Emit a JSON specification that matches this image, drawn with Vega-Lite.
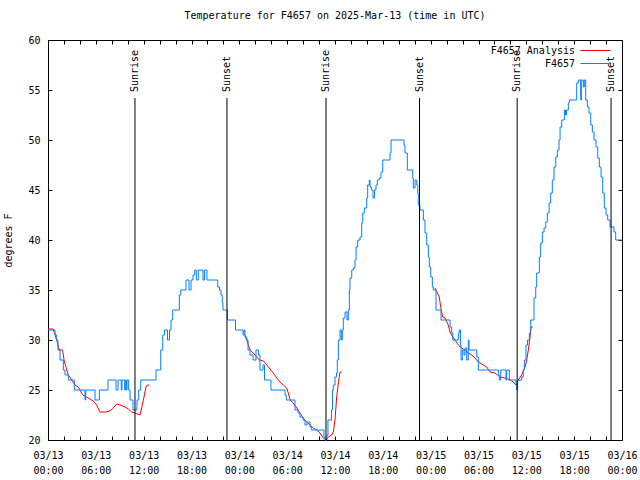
{
  "$schema": "https://vega.github.io/schema/vega-lite/v6.json",
  "width": 574,
  "height": 400,
  "autosize": {"type": "none"},
  "padding": {"left": 48, "top": 40, "right": 18, "bottom": 40},
  "background": "white",
  "title": {"text": "Temperature for F4657 on 2025-Mar-13 (time in UTC)", "font": "DejaVu Sans Mono", "fontSize": 10, "fontWeight": "normal", "color": "black", "offset": 14},
  "config": {
    "view": {"stroke": "black", "strokeWidth": 1},
    "font": "DejaVu Sans Mono",
    "axis": {"labelFont": "DejaVu Sans Mono", "labelFontSize": 10, "labelColor": "black", "titleFont": "DejaVu Sans Mono", "titleFontSize": 10, "titleFontWeight": "normal", "titleColor": "black", "domain": false, "grid": false, "tickColor": "black", "tickWidth": 1, "labelFlush": false},
    "legend": {"orient": "none", "legendX": 542, "legendY": 5, "title": null, "symbolType": "M-3,0H3", "symbolSize": 100, "symbolStrokeWidth": 1, "labelAlign": "right", "labelOffset": -26, "labelFont": "DejaVu Sans Mono", "labelFontSize": 10, "labelColor": "black", "padding": 0, "rowPadding": 2}
  },
  "datasets": {
    "obs": [
      {"hour": 0, "temp": 31}, {"hour": 0.88, "temp": 30.5}, {"hour": 1.09, "temp": 30}, {"hour": 1.25, "temp": 29}, {"hour": 1.51, "temp": 28},
      {"hour": 1.92, "temp": 27}, {"hour": 2.13, "temp": 26.5}, {"hour": 2.55, "temp": 26}, {"hour": 3.3, "temp": 25}, {"hour": 4.64, "temp": 24},
      {"hour": 4.73, "temp": 25}, {"hour": 5.9, "temp": 24}, {"hour": 6.44, "temp": 25}, {"hour": 7.53, "temp": 26}, {"hour": 8.53, "temp": 25},
      {"hour": 8.78, "temp": 26}, {"hour": 9.03, "temp": 26}, {"hour": 9.19, "temp": 25}, {"hour": 9.28, "temp": 26}, {"hour": 9.62, "temp": 25},
      {"hour": 9.7, "temp": 26}, {"hour": 9.82, "temp": 25}, {"hour": 9.91, "temp": 26}, {"hour": 10.12, "temp": 25}, {"hour": 10.29, "temp": 24},
      {"hour": 10.66, "temp": 23}, {"hour": 11.16, "temp": 24}, {"hour": 11.38, "temp": 25}, {"hour": 11.63, "temp": 26}, {"hour": 13.55, "temp": 27},
      {"hour": 14.14, "temp": 29}, {"hour": 14.39, "temp": 30.5}, {"hour": 14.61, "temp": 31}, {"hour": 14.99, "temp": 30}, {"hour": 15.24, "temp": 31},
      {"hour": 15.43, "temp": 32}, {"hour": 15.64, "temp": 33}, {"hour": 16.47, "temp": 34.5}, {"hour": 16.65, "temp": 35}, {"hour": 17.31, "temp": 36},
      {"hour": 17.69, "temp": 35}, {"hour": 17.94, "temp": 36}, {"hour": 18.19, "temp": 36.5}, {"hour": 18.4, "temp": 37}, {"hour": 18.6, "temp": 36},
      {"hour": 18.85, "temp": 37}, {"hour": 19.44, "temp": 36}, {"hour": 19.63, "temp": 37}, {"hour": 19.94, "temp": 36}, {"hour": 21.29, "temp": 35.3},
      {"hour": 21.51, "temp": 35}, {"hour": 21.7, "temp": 34.5}, {"hour": 21.86, "temp": 33.7}, {"hour": 21.95, "temp": 33}, {"hour": 22.52, "temp": 32},
      {"hour": 23.52, "temp": 31}, {"hour": 24.46, "temp": 30.5}, {"hour": 24.59, "temp": 31}, {"hour": 24.71, "temp": 30.3}, {"hour": 24.93, "temp": 30},
      {"hour": 25.09, "temp": 29}, {"hour": 25.34, "temp": 28.5}, {"hour": 25.72, "temp": 28}, {"hour": 26.09, "temp": 29}, {"hour": 26.41, "temp": 28.5},
      {"hour": 26.59, "temp": 27}, {"hour": 26.97, "temp": 27.5}, {"hour": 27.16, "temp": 26}, {"hour": 27.97, "temp": 25}, {"hour": 29.73, "temp": 24.5},
      {"hour": 29.89, "temp": 24}, {"hour": 30.98, "temp": 23}, {"hour": 31.36, "temp": 22.7}, {"hour": 31.61, "temp": 22.3}, {"hour": 31.99, "temp": 22},
      {"hour": 32.24, "temp": 21.5}, {"hour": 32.49, "temp": 21.8}, {"hour": 32.87, "temp": 21.3}, {"hour": 33.08, "temp": 21}, {"hour": 34.62, "temp": 20.3},
      {"hour": 34.75, "temp": 20}, {"hour": 35.0, "temp": 20.5}, {"hour": 35.12, "temp": 22}, {"hour": 35.56, "temp": 23}, {"hour": 35.69, "temp": 25},
      {"hour": 35.79, "temp": 25.5}, {"hour": 36.0, "temp": 26.3}, {"hour": 36.19, "temp": 26.7}, {"hour": 36.29, "temp": 28}, {"hour": 36.42, "temp": 30},
      {"hour": 36.63, "temp": 31}, {"hour": 36.79, "temp": 30}, {"hour": 36.92, "temp": 31}, {"hour": 37.04, "temp": 32.2}, {"hour": 37.26, "temp": 32.8},
      {"hour": 37.51, "temp": 32}, {"hour": 37.67, "temp": 33}, {"hour": 37.8, "temp": 35}, {"hour": 37.88, "temp": 36.2}, {"hour": 38.1, "temp": 37},
      {"hour": 38.3, "temp": 37.2}, {"hour": 38.51, "temp": 38}, {"hour": 38.64, "temp": 39.3}, {"hour": 38.85, "temp": 40}, {"hour": 39.14, "temp": 40.3},
      {"hour": 39.35, "temp": 41.7}, {"hour": 39.48, "temp": 42.7}, {"hour": 39.68, "temp": 43.2}, {"hour": 39.98, "temp": 44.2}, {"hour": 40.1, "temp": 45.5},
      {"hour": 40.3, "temp": 46}, {"hour": 40.39, "temp": 45.3}, {"hour": 40.58, "temp": 45}, {"hour": 40.77, "temp": 44.2}, {"hour": 40.96, "temp": 45},
      {"hour": 41.14, "temp": 45.5}, {"hour": 41.31, "temp": 46}, {"hour": 41.56, "temp": 46.2}, {"hour": 41.77, "temp": 46.8}, {"hour": 41.99, "temp": 48},
      {"hour": 42.9, "temp": 48.7}, {"hour": 43.03, "temp": 50}, {"hour": 44.66, "temp": 49.5}, {"hour": 44.78, "temp": 48.7}, {"hour": 45.07, "temp": 47},
      {"hour": 45.75, "temp": 46.2}, {"hour": 45.82, "temp": 45.2}, {"hour": 46.04, "temp": 46}, {"hour": 46.25, "temp": 45.5}, {"hour": 46.38, "temp": 44.7},
      {"hour": 46.45, "temp": 43.5}, {"hour": 46.66, "temp": 43}, {"hour": 47.08, "temp": 42}, {"hour": 47.29, "temp": 40.7}, {"hour": 47.5, "temp": 39.5},
      {"hour": 47.71, "temp": 38.3}, {"hour": 47.83, "temp": 37.3}, {"hour": 48.01, "temp": 36.3}, {"hour": 48.21, "temp": 35.3}, {"hour": 48.33, "temp": 35},
      {"hour": 48.67, "temp": 33}, {"hour": 49.3, "temp": 32}, {"hour": 50.43, "temp": 31.3}, {"hour": 50.64, "temp": 30.7}, {"hour": 50.77, "temp": 30},
      {"hour": 51.47, "temp": 30.7}, {"hour": 51.59, "temp": 31}, {"hour": 51.74, "temp": 29.5}, {"hour": 51.81, "temp": 28}, {"hour": 51.97, "temp": 29},
      {"hour": 52.18, "temp": 28.5}, {"hour": 52.31, "temp": 29.2}, {"hour": 52.52, "temp": 28}, {"hour": 52.72, "temp": 30}, {"hour": 52.81, "temp": 29},
      {"hour": 53.78, "temp": 28.3}, {"hour": 53.98, "temp": 27}, {"hour": 56.49, "temp": 26.5}, {"hour": 56.61, "temp": 26}, {"hour": 56.79, "temp": 27},
      {"hour": 57.45, "temp": 26}, {"hour": 57.54, "temp": 27}, {"hour": 57.87, "temp": 26}, {"hour": 58.71, "temp": 25.7}, {"hour": 58.79, "temp": 25},
      {"hour": 58.89, "temp": 26}, {"hour": 59.42, "temp": 26.3}, {"hour": 59.62, "temp": 27}, {"hour": 59.75, "temp": 28}, {"hour": 59.96, "temp": 29.5},
      {"hour": 60.15, "temp": 30}, {"hour": 60.38, "temp": 30.7}, {"hour": 60.55, "temp": 32}, {"hour": 60.96, "temp": 34.2}, {"hour": 61.18, "temp": 35.3},
      {"hour": 61.3, "temp": 36.7}, {"hour": 61.63, "temp": 38.3}, {"hour": 61.8, "temp": 39.7}, {"hour": 62.01, "temp": 40.8}, {"hour": 62.22, "temp": 41.2},
      {"hour": 62.43, "temp": 41.8}, {"hour": 62.63, "temp": 42.7}, {"hour": 62.85, "temp": 43.7}, {"hour": 63.06, "temp": 44.7}, {"hour": 63.26, "temp": 46},
      {"hour": 63.47, "temp": 47.3}, {"hour": 63.69, "temp": 48.3}, {"hour": 63.89, "temp": 49}, {"hour": 64.1, "temp": 50}, {"hour": 64.23, "temp": 51.3},
      {"hour": 64.44, "temp": 52}, {"hour": 64.77, "temp": 53}, {"hour": 64.92, "temp": 52.5}, {"hour": 65.04, "temp": 53}, {"hour": 65.27, "temp": 53.7},
      {"hour": 65.39, "temp": 54}, {"hour": 66.32, "temp": 55.7}, {"hour": 66.52, "temp": 56}, {"hour": 66.82, "temp": 54}, {"hour": 66.9, "temp": 56},
      {"hour": 67.15, "temp": 55.3}, {"hour": 67.27, "temp": 56}, {"hour": 67.45, "temp": 54}, {"hour": 67.65, "temp": 53.3}, {"hour": 67.86, "temp": 52.7},
      {"hour": 68.08, "temp": 51.5}, {"hour": 68.28, "temp": 50.8}, {"hour": 68.49, "temp": 50}, {"hour": 68.74, "temp": 49.3}, {"hour": 68.96, "temp": 48.2},
      {"hour": 69.16, "temp": 47.3}, {"hour": 69.37, "temp": 46.3}, {"hour": 69.58, "temp": 44.7}, {"hour": 69.78, "temp": 43.2}, {"hour": 70.0, "temp": 42.5},
      {"hour": 70.21, "temp": 42}, {"hour": 70.5, "temp": 41.3}, {"hour": 71.0, "temp": 40.8}, {"hour": 71.21, "temp": 40}, {"hour": 72.0, "temp": 40}
    ],
    "analysis": [
      {"hour": 0, "temp": 31.1, "seg": 1}, {"hour": 0.66, "temp": 31.1, "seg": 1}, {"hour": 0.88, "temp": 30.5, "seg": 1}, {"hour": 1.09, "temp": 30, "seg": 1},
      {"hour": 1.42, "temp": 29, "seg": 1}, {"hour": 1.84, "temp": 29, "seg": 1}, {"hour": 2.01, "temp": 28, "seg": 1}, {"hour": 2.35, "temp": 27, "seg": 1},
      {"hour": 2.55, "temp": 26.5, "seg": 1}, {"hour": 2.97, "temp": 26, "seg": 1}, {"hour": 3.39, "temp": 25.5, "seg": 1}, {"hour": 3.8, "temp": 25.3, "seg": 1},
      {"hour": 4.01, "temp": 25, "seg": 1}, {"hour": 4.35, "temp": 24.5, "seg": 1}, {"hour": 4.85, "temp": 24.3, "seg": 1}, {"hour": 5.27, "temp": 24.1, "seg": 1},
      {"hour": 5.68, "temp": 23.9, "seg": 1}, {"hour": 6.11, "temp": 23.5, "seg": 1}, {"hour": 6.52, "temp": 22.8, "seg": 1}, {"hour": 7.15, "temp": 22.8, "seg": 1},
      {"hour": 7.78, "temp": 22.9, "seg": 1}, {"hour": 8.19, "temp": 23.2, "seg": 1}, {"hour": 8.62, "temp": 23.6, "seg": 1}, {"hour": 9.03, "temp": 23.5, "seg": 1},
      {"hour": 9.66, "temp": 23.3, "seg": 1}, {"hour": 10.07, "temp": 23.1, "seg": 1}, {"hour": 10.5, "temp": 22.8, "seg": 1}, {"hour": 10.91, "temp": 22.7, "seg": 1},
      {"hour": 11.54, "temp": 22.5, "seg": 1}, {"hour": 11.75, "temp": 23.2, "seg": 1}, {"hour": 12.04, "temp": 24.3, "seg": 1}, {"hour": 12.29, "temp": 25.3, "seg": 1},
      {"hour": 12.46, "temp": 25.5, "seg": 1}, {"hour": 12.71, "temp": 25.5, "seg": 1},
      {"hour": 24.71, "temp": 30.5, "seg": 2}, {"hour": 24.93, "temp": 30, "seg": 2}, {"hour": 25.34, "temp": 29, "seg": 2}, {"hour": 25.75, "temp": 28.7, "seg": 2},
      {"hour": 26.18, "temp": 28.3, "seg": 2}, {"hour": 26.51, "temp": 28, "seg": 2}, {"hour": 27.01, "temp": 27.9, "seg": 2}, {"hour": 27.44, "temp": 27.5, "seg": 2},
      {"hour": 27.85, "temp": 27.1, "seg": 2}, {"hour": 28.26, "temp": 26.7, "seg": 2}, {"hour": 28.69, "temp": 26.2, "seg": 2}, {"hour": 29.1, "temp": 25.8, "seg": 2},
      {"hour": 29.52, "temp": 25.5, "seg": 2}, {"hour": 29.94, "temp": 25.2, "seg": 2}, {"hour": 30.14, "temp": 24.7, "seg": 2}, {"hour": 30.36, "temp": 24, "seg": 2},
      {"hour": 30.77, "temp": 23.7, "seg": 2}, {"hour": 31.2, "temp": 23.2, "seg": 2}, {"hour": 31.61, "temp": 22.7, "seg": 2}, {"hour": 32.03, "temp": 22.2, "seg": 2},
      {"hour": 32.45, "temp": 21.8, "seg": 2}, {"hour": 32.87, "temp": 21.5, "seg": 2}, {"hour": 33.28, "temp": 21.2, "seg": 2}, {"hour": 33.71, "temp": 21, "seg": 2},
      {"hour": 34.12, "temp": 20.7, "seg": 2}, {"hour": 34.53, "temp": 20.2, "seg": 2}, {"hour": 34.87, "temp": 20, "seg": 2}, {"hour": 35.16, "temp": 20.3, "seg": 2},
      {"hour": 35.59, "temp": 20.5, "seg": 2}, {"hour": 35.79, "temp": 20.8, "seg": 2}, {"hour": 36.0, "temp": 22, "seg": 2}, {"hour": 36.21, "temp": 24.3, "seg": 2},
      {"hour": 36.42, "temp": 25.7, "seg": 2}, {"hour": 36.63, "temp": 26.8, "seg": 2}, {"hour": 36.84, "temp": 26.8, "seg": 2},
      {"hour": 48.55, "temp": 35.2, "seg": 3}, {"hour": 49.08, "temp": 34.3, "seg": 3}, {"hour": 49.26, "temp": 33.3, "seg": 3}, {"hour": 49.51, "temp": 32.3, "seg": 3},
      {"hour": 49.8, "temp": 32.2, "seg": 3}, {"hour": 50.21, "temp": 31.5, "seg": 3}, {"hour": 50.43, "temp": 30.8, "seg": 3}, {"hour": 50.64, "temp": 30.5, "seg": 3},
      {"hour": 51.05, "temp": 30, "seg": 3}, {"hour": 51.47, "temp": 29.5, "seg": 3}, {"hour": 51.89, "temp": 29.2, "seg": 3}, {"hour": 52.31, "temp": 29, "seg": 3},
      {"hour": 52.72, "temp": 28.7, "seg": 3}, {"hour": 53.15, "temp": 28.5, "seg": 3}, {"hour": 53.56, "temp": 28.2, "seg": 3}, {"hour": 53.98, "temp": 27.8, "seg": 3},
      {"hour": 54.61, "temp": 27.5, "seg": 3}, {"hour": 55.03, "temp": 27.3, "seg": 3}, {"hour": 55.45, "temp": 26.8, "seg": 3}, {"hour": 56.07, "temp": 26.7, "seg": 3},
      {"hour": 56.7, "temp": 26.3, "seg": 3}, {"hour": 57.33, "temp": 26.2, "seg": 3}, {"hour": 57.96, "temp": 26, "seg": 3}, {"hour": 58.37, "temp": 25.8, "seg": 3},
      {"hour": 58.71, "temp": 25.5, "seg": 3}, {"hour": 58.99, "temp": 26, "seg": 3}, {"hour": 59.42, "temp": 26.5, "seg": 3}, {"hour": 59.84, "temp": 27.3, "seg": 3},
      {"hour": 60.05, "temp": 28, "seg": 3}, {"hour": 60.25, "temp": 29, "seg": 3}, {"hour": 60.46, "temp": 30.3, "seg": 3}, {"hour": 60.59, "temp": 31.3, "seg": 3},
      {"hour": 60.8, "temp": 31.3, "seg": 3}
    ],
    "sun": [
      {"hour": 10.91, "event": "Sunrise"}, {"hour": 22.45, "event": "Sunset"}, {"hour": 34.87, "event": "Sunrise"},
      {"hour": 46.6, "event": "Sunset"}, {"hour": 58.85, "event": "Sunrise"}, {"hour": 70.63, "event": "Sunset"}
    ]
  },
  "layer": [
    {
      "data": {"name": "analysis"},
      "mark": {"type": "line", "strokeWidth": 1, "interpolate": "linear"},
      "encoding": {
        "x": {"field": "hour", "type": "quantitative", "scale": {"domain": [0, 72], "nice": false, "zero": false},
          "axis": {"orient": "bottom", "values": [0,2,4,6,8,10,12,14,16,18,20,22,24,26,28,30,32,34,36,38,40,42,44,46,48,50,52,54,56,58,60,62,64,66,68,70,72], "tickSize": -4, "labelPadding": 14, "labelOverlap": false, "labelLineHeight": 15, "labelBaseline": "top", "labelFlush": false,
            "labelExpr": "datum.value % 6 == 0 ? ['03/' + (13 + floor(datum.value / 24)), format(datum.value % 24, '02d') + ':00'] : ''", "title": null}},
        "y": {"field": "temp", "type": "quantitative", "scale": {"domain": [20, 60], "nice": false, "zero": false},
          "axis": {"orient": "left", "values": [20,25,30,35,40,45,50,55,60], "tickSize": -4, "labelPadding": 12, "labelFlush": false, "title": "degrees F", "titlePadding": 14}},
        "color": {"datum": "F4657 Analysis", "type": "nominal", "scale": {"domain": ["F4657 Analysis", "F4657"], "range": ["#ff0000", "#0080ff"]}},
        "detail": {"field": "seg", "type": "nominal"}
      }
    },
    {
      "data": {"name": "obs"},
      "mark": {"type": "line", "strokeWidth": 1, "interpolate": "step-after"},
      "encoding": {
        "x": {"field": "hour", "type": "quantitative",
          "axis": {"orient": "top", "values": [0,2,4,6,8,10,12,14,16,18,20,22,24,26,28,30,32,34,36,38,40,42,44,46,48,50,52,54,56,58,60,62,64,66,68,70,72], "tickSize": -4, "labels": false, "title": null}},
        "y": {"field": "temp", "type": "quantitative",
          "axis": {"orient": "right", "values": [20,25,30,35,40,45,50,55,60], "tickSize": -4, "labels": false, "title": null}},
        "color": {"datum": "F4657", "type": "nominal"}
      }
    },
    {
      "data": {"name": "sun"},
      "mark": {"type": "rule", "color": "black", "strokeWidth": 1},
      "encoding": {
        "x": {"field": "hour", "type": "quantitative", "axis": null},
        "y": {"datum": 54.2, "axis": null},
        "y2": {"datum": 20}
      }
    },
    {
      "data": {"name": "sun"},
      "mark": {"type": "text", "angle": 270, "align": "left", "baseline": "middle", "font": "DejaVu Sans Mono", "fontSize": 10, "color": "black"},
      "encoding": {
        "x": {"field": "hour", "type": "quantitative", "axis": null},
        "y": {"datum": 54.8, "axis": null},
        "text": {"field": "event", "type": "nominal"}
      }
    }
  ],
  "resolve": {"axis": {"x": "independent", "y": "independent"}}
}
